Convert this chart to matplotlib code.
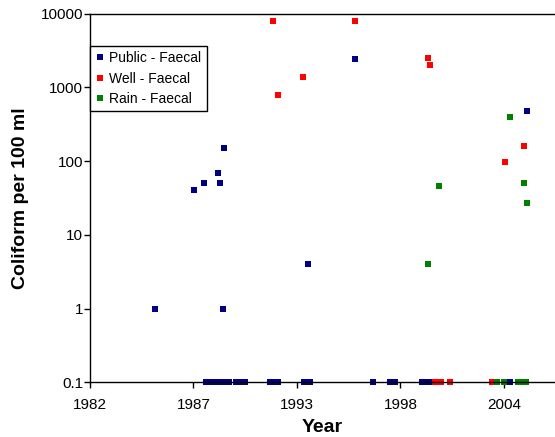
import matplotlib
matplotlib.use("Agg")
import matplotlib.pyplot as plt
import numpy as np

plt.rcParams['font.family'] = ['Liberation Sans', 'DejaVu Sans']

# Sample dates (decimal years) and faecal coliform counts (per 100 ml); 0.1 = none detected
public_years = [1985.44, 1987.52, 1988.02, 1988.77, 1988.86, 1989.10, 1989.02,
                1993.53, 1996.04, 2005.12,
                1988.12, 1988.30, 1988.46, 1988.61, 1988.77, 1988.93, 1989.12,
                1989.33, 1989.71, 1990.04, 1990.20, 1991.54, 1991.74, 1991.93,
                1993.31, 1993.47, 1993.62, 1996.97, 1997.89, 1998.15,
                1999.57, 1999.75, 1999.92, 2004.22]
public_vals = [1, 40, 50, 70, 50, 150, 1,
               4, 2400, 480,
               0.1, 0.1, 0.1, 0.1, 0.1, 0.1, 0.1,
               0.1, 0.1, 0.1, 0.1, 0.1, 0.1, 0.1,
               0.1, 0.1, 0.1, 0.1, 0.1, 0.1,
               0.1, 0.1, 0.1, 0.1]

well_years = [1991.70, 1991.96, 1993.29, 1996.04, 1999.88, 1999.97, 2003.97, 2004.98,
              2000.24, 2000.40, 2000.57, 2001.05, 2003.27]
well_vals = [8000, 800, 1400, 8000, 2500, 2000, 96, 160,
             0.1, 0.1, 0.1, 0.1, 0.1]

rain_years = [1999.88, 2000.47, 2004.22, 2004.98, 2005.12,
              2003.53, 2003.90, 2004.65, 2004.86, 2005.08]
rain_vals = [4, 46, 400, 50, 27,
             0.1, 0.1, 0.1, 0.1, 0.1]

tick_labels = ['1982', '1987', '1993', '1998', '2004']
y_ticks = [0.1, 1, 10, 100, 1000, 10000]

fig = plt.figure(figsize=(5.55, 4.37), dpi=100)
ax = fig.add_axes([90 / 555, (437 - 382.3) / 437, 1 - 90 / 555, (382.3 - 13.7) / 437])

ms = 4.3
ax.plot(public_years, public_vals, 's', color='#000080', ms=ms, mew=0,
        label='Public - Faecal', clip_on=False)
ax.plot(well_years, well_vals, 's', color='#FF0000', ms=ms, mew=0,
        label='Well - Faecal', clip_on=False)
ax.plot(rain_years, rain_vals, 's', color='#008000', ms=ms, mew=0,
        label='Rain - Faecal', clip_on=False)

ax.set_yscale('log')
ax.set_ylim(0.1, 10000)
ax.set_yticks(y_ticks)
ax.set_yticklabels(['0.1', '1', '10', '100', '1000', '10000'])
ax.minorticks_off()

step = 2000 / 365.25
x0 = 1982.0
ax.set_xlim(x0, x0 + 465 / 18.9)
ax.set_xticks([x0 + k * step for k in range(len(tick_labels))])
ax.set_xticklabels(tick_labels)

ax.tick_params(axis='both', labelsize=11, direction='out', length=4, width=1, colors='black')
ax.tick_params(axis='x', pad=7)
ax.tick_params(axis='y', pad=1)

for s in ['left', 'bottom', 'top']:
    ax.spines[s].set_linewidth(1.0)
    ax.spines[s].set_color('black')
ax.spines['right'].set_visible(False)

ax.set_xlabel('Year', fontsize=14, fontweight='bold', labelpad=5)
ax.set_ylabel('Coliform per 100 ml', fontsize=14, fontweight='bold', labelpad=8)

leg = ax.legend(loc='upper left', bbox_to_anchor=(0, (382.3 - 45.7) / 368.6),
                borderaxespad=0, fancybox=False, edgecolor='black', framealpha=1,
                fontsize=10, handlelength=0.6, handletextpad=0.4, labelspacing=0.45,
                borderpad=0.4, markerscale=1.0)
leg.get_frame().set_linewidth(1.0)

fig.savefig('out.png', dpi=100)
